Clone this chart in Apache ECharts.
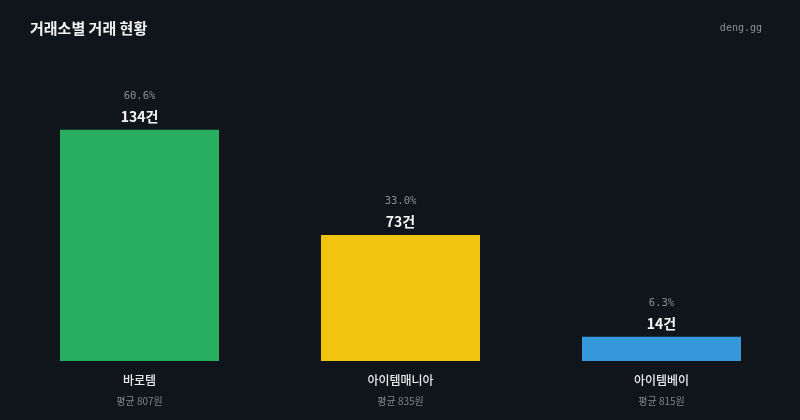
<!DOCTYPE html>
<html>
<head>
<meta charset="utf-8">
<script src="https://cdn.jsdelivr.net/npm/echarts@6/dist/echarts.min.js"></script>
<style>
  html, body { margin: 0; padding: 0; background: #10141b; }
  #chart { width: 800px; height: 420px; }
</style>
</head>
<body>
<div id="chart"></div>
<script>
// === DATA ===
const exchanges = ['바로템', '아이템매니아', '아이템베이'];
const tradeCounts = [134, 73, 14];
const shares = ['60.6%', '33.0%', '6.3%'];
const avgPrices = [807, 835, 815];
const barColors = ['#27ae60', '#f1c40f', '#3498db'];

const chart = echarts.init(document.getElementById('chart'));

chart.setOption({
    backgroundColor: '#10141b',
    animation: false,
    title: [
        {
            text: '거래소별 거래 현황',
            left: 25, top: 16,
            textStyle: { color: '#f2f2f2', fontSize: 15, fontWeight: 'bold', fontFamily: 'Noto Sans CJK KR' }
        },
        {
            text: 'deng.gg',
            right: 33, top: 18,
            textStyle: { color: '#8a8f98', fontSize: 10, fontWeight: 'normal', fontFamily: 'DejaVu Sans Mono' }
        }
    ],
    grid: { left: 9, right: 8, top: 102, bottom: 59 },
    xAxis: {
        type: 'category',
        data: exchanges,
        axisLine: { show: false },
        axisTick: { show: false },
        axisLabel: {
            margin: 9,
            formatter: (v, i) => `{n|${v}}\n{a|평균 ${avgPrices[i]}원}`,
            rich: {
                n: { color: '#e8e8e8', fontSize: 12, fontWeight: 500, fontFamily: 'Noto Sans CJK KR', lineHeight: 21 },
                a: { color: '#80858d', fontSize: 10, fontFamily: 'Noto Sans CJK KR', lineHeight: 21 }
            }
        }
    },
    yAxis: {
        type: 'value',
        min: 0, max: 150,
        show: false,
        splitLine: { show: false }
    },
    series: [{
        type: 'bar',
        barWidth: 159,
        data: tradeCounts.map((v, i) => ({ value: v, itemStyle: { color: barColors[i] } })),
        label: {
            show: true,
            position: 'top',
            distance: 3,
            formatter: p => `{p|${shares[p.dataIndex]}}\n{c|${p.value}건}`,
            rich: {
                p: { color: '#8a8f98', fontSize: 10.5, fontFamily: 'DejaVu Sans Mono', lineHeight: 21 },
                c: { color: '#f5f5f5', fontSize: 14, fontWeight: 'bold', fontFamily: 'Noto Sans CJK KR', lineHeight: 20 }
            }
        }
    }]
});
</script>
</body>
</html>
